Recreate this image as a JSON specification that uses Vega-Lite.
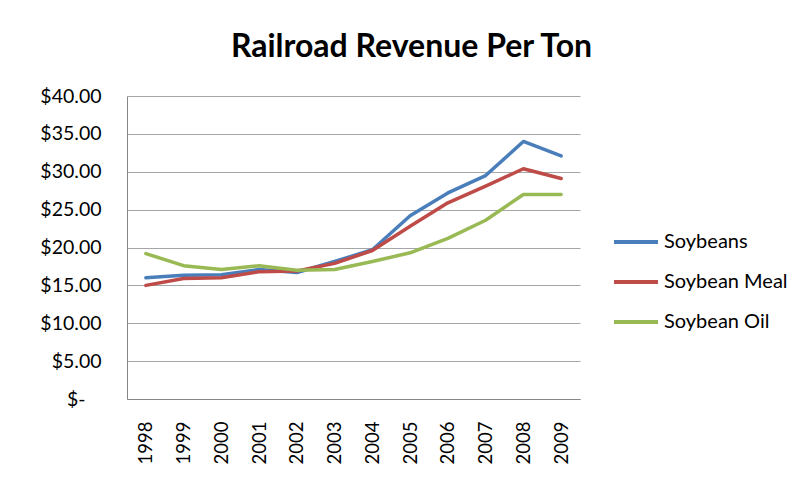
{
  "$schema": "https://vega.github.io/schema/vega-lite/v6.json",
  "autosize": {"type": "none"},
  "width": 453,
  "height": 303,
  "padding": {"left": 127, "top": 96, "right": 219, "bottom": 85},
  "background": "white",
  "title": {
    "text": "Railroad Revenue Per Ton",
    "font": "Lato",
    "fontSize": 32,
    "fontWeight": "bold",
    "color": "#000000",
    "anchor": "middle",
    "frame": "group",
    "dx": 58,
    "offset": 22
  },
  "config": {
    "view": {"stroke": null},
    "font": "Lato"
  },
  "data": {
    "values": [
      {"year": "1998", "series": "Soybeans", "value": 16.0},
      {"year": "1999", "series": "Soybeans", "value": 16.35},
      {"year": "2000", "series": "Soybeans", "value": 16.4},
      {"year": "2001", "series": "Soybeans", "value": 17.1},
      {"year": "2002", "series": "Soybeans", "value": 16.7},
      {"year": "2003", "series": "Soybeans", "value": 18.15},
      {"year": "2004", "series": "Soybeans", "value": 19.7},
      {"year": "2005", "series": "Soybeans", "value": 24.2},
      {"year": "2006", "series": "Soybeans", "value": 27.2},
      {"year": "2007", "series": "Soybeans", "value": 29.5},
      {"year": "2008", "series": "Soybeans", "value": 34.0},
      {"year": "2009", "series": "Soybeans", "value": 32.1},
      {"year": "1998", "series": "Soybean Meal", "value": 15.0},
      {"year": "1999", "series": "Soybean Meal", "value": 15.9},
      {"year": "2000", "series": "Soybean Meal", "value": 16.0},
      {"year": "2001", "series": "Soybean Meal", "value": 16.8},
      {"year": "2002", "series": "Soybean Meal", "value": 16.9},
      {"year": "2003", "series": "Soybean Meal", "value": 17.9},
      {"year": "2004", "series": "Soybean Meal", "value": 19.6},
      {"year": "2005", "series": "Soybean Meal", "value": 22.8},
      {"year": "2006", "series": "Soybean Meal", "value": 25.9},
      {"year": "2007", "series": "Soybean Meal", "value": 28.1},
      {"year": "2008", "series": "Soybean Meal", "value": 30.4},
      {"year": "2009", "series": "Soybean Meal", "value": 29.1},
      {"year": "1998", "series": "Soybean Oil", "value": 19.2},
      {"year": "1999", "series": "Soybean Oil", "value": 17.6},
      {"year": "2000", "series": "Soybean Oil", "value": 17.1},
      {"year": "2001", "series": "Soybean Oil", "value": 17.6},
      {"year": "2002", "series": "Soybean Oil", "value": 17.0},
      {"year": "2003", "series": "Soybean Oil", "value": 17.1},
      {"year": "2004", "series": "Soybean Oil", "value": 18.15},
      {"year": "2005", "series": "Soybean Oil", "value": 19.3},
      {"year": "2006", "series": "Soybean Oil", "value": 21.2},
      {"year": "2007", "series": "Soybean Oil", "value": 23.6},
      {"year": "2008", "series": "Soybean Oil", "value": 27.0},
      {"year": "2009", "series": "Soybean Oil", "value": 27.0}
    ]
  },
  "mark": {"type": "line", "strokeWidth": 3.5, "strokeCap": "round", "strokeJoin": "round"},
  "encoding": {
    "x": {
      "field": "year",
      "type": "ordinal",
      "scale": {"type": "point", "padding": 0.5},
      "axis": {
        "title": null,
        "labelAngle": -90,
        "labelAlign": "right",
        "labelBaseline": "middle",
        "labelFontSize": 18.5,
        "labelColor": "#000000",
        "labelPadding": 22,
        "ticks": false,
        "domainColor": "#868686",
        "grid": false
      }
    },
    "y": {
      "field": "value",
      "type": "quantitative",
      "scale": {"domain": [0, 40], "nice": false},
      "axis": {
        "title": null,
        "values": [0, 5, 10, 15, 20, 25, 30, 35, 40],
        "labelExpr": "datum.value == 0 ? '$-' : '$' + format(datum.value, '.2f')",
        "labelFontSize": 19.5,
        "labelColor": "#000000",
        "labelPadding": {"condition": {"test": "datum.value == 0", "value": 42}, "value": 26},
        "ticks": false,
        "domainColor": "#868686",
        "gridColor": "#a6a6a6",
        "gridWidth": 1
      }
    },
    "color": {
      "field": "series",
      "type": "nominal",
      "sort": ["Soybeans", "Soybean Meal", "Soybean Oil"],
      "scale": {
        "domain": ["Soybeans", "Soybean Meal", "Soybean Oil"],
        "range": ["#4a7ebb", "#be4b48", "#98b954"]
      },
      "legend": {
        "title": null,
        "orient": "none",
        "legendX": 485,
        "legendY": 122,
        "symbolType": "stroke",
        "symbolSize": 1936,
        "symbolStrokeWidth": 4,
        "labelFontSize": 20,
        "labelColor": "#000000",
        "labelOffset": 4,
        "rowPadding": 6
      }
    }
  }
}
